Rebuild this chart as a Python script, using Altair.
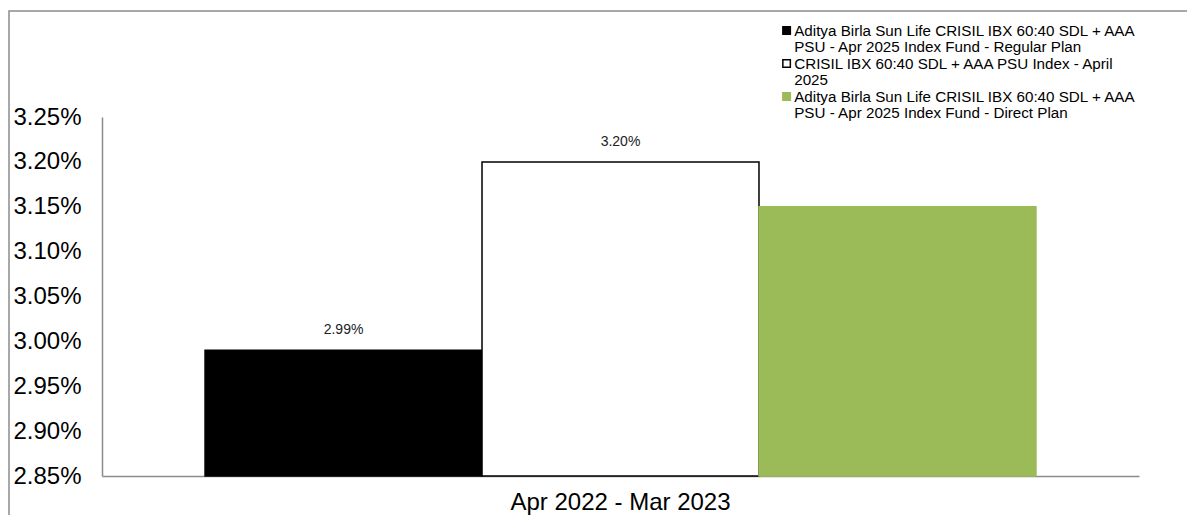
import altair as alt
import pandas as pd

# ---- data ----
period = ["Apr 2022 - Mar 2023"]
series = [
    "Aditya Birla Sun Life CRISIL IBX 60:40 SDL + AAA|PSU - Apr 2025 Index Fund - Regular Plan",
    "CRISIL IBX 60:40 SDL + AAA PSU Index - April|2025",
    "Aditya Birla Sun Life CRISIL IBX 60:40 SDL + AAA|PSU - Apr 2025 Index Fund - Direct Plan",
]
returns = [0.0299, 0.0320, 0.0315]
show_label = [True, True, False]
y_ticks = [0.0285, 0.0290, 0.0295, 0.0300, 0.0305, 0.0310, 0.0315, 0.0320, 0.0325]

# ---- styling ----
fills = ["#000000", "#FFFFFF", "#9BBB59"]
strokes = ["#000000", "#000000", "#9BBB59"]
FONT = "Liberation Sans"
y_min, y_max = y_ticks[0], y_ticks[-1]

df = pd.DataFrame({
    "period": period * len(series),
    "series": series,
    "value": returns,
    "show": show_label,
})

legend_kw = dict(
    title=None,
    orient="none",
    legendX=677,
    legendY=-94,
    symbolType="square",
    symbolSize=56,
    symbolStrokeWidth=1.5,
    labelFont=FONT,
    labelFontSize=15.2,
    labelColor="#000000",
    labelExpr="split(datum.label, '|')",
    labelLimit=600,
    labelOffset=0,
    rowPadding=0,
    padding=0,
    offset=0,
)

x_enc = alt.X(
    "period:N",
    scale=alt.Scale(paddingInner=0, paddingOuter=0.124),
    axis=alt.Axis(title=None, labelAngle=0, labelFont=FONT, labelFontSize=24,
                  labelColor="#000000", labelPadding=14, labelLimit=600, ticks=False,
                  domainColor="#8c8c8c", domainWidth=1.5),
)
xoff_enc = alt.XOffset("series:N", sort=series,
                       scale=alt.Scale(domain=series, paddingInner=0, paddingOuter=0))
y_enc = alt.Y(
    "value:Q",
    scale=alt.Scale(domain=[y_min, y_max], nice=False, zero=False),
    axis=alt.Axis(title=None, values=y_ticks, format=".2%", labelFont=FONT,
                  labelFontSize=24, labelColor="#000000", labelPadding=21,
                  ticks=False, grid=False, domainColor="#8c8c8c", domainWidth=1.5),
)

bars = alt.Chart(df).mark_bar(strokeWidth=1.5).encode(
    x=x_enc,
    xOffset=xoff_enc,
    y=y_enc,
    y2=alt.datum(y_min),
    color=alt.Color("series:N", scale=alt.Scale(domain=series, range=fills),
                    legend=alt.Legend(**legend_kw)),
    stroke=alt.Stroke("series:N", scale=alt.Scale(domain=series, range=strokes),
                      legend=alt.Legend(**legend_kw)),
)

labels = alt.Chart(df).transform_filter("datum.show").mark_text(
    dy=-20, font=FONT, fontSize=14, color="#222222", baseline="middle"
).encode(
    x=x_enc,
    xOffset=xoff_enc,
    y=y_enc,
    text=alt.Text("value:Q", format=".2%"),
)

border = alt.Chart(pd.DataFrame({"a": [0]})).mark_rect(
    fill="transparent", stroke="#8c8c8c", strokeWidth=1.5
).encode(
    x=alt.value(-93), x2=alt.value(1200), y=alt.value(-106), y2=alt.value(600)
)

chart = alt.layer(border, bars, labels).properties(
    width=1037,
    height=359,
    autosize=alt.AutoSizeParams(type="none"),
    padding={"left": 94, "top": 109, "right": 48, "bottom": 40},
).configure(
    background="white",
    view=alt.ViewConfig(stroke="transparent", strokeWidth=0),
    style={"guide-label": {"lineHeight": 16.8}},
)

chart.save("out.html", embed_options={"renderer": "svg", "actions": False})
